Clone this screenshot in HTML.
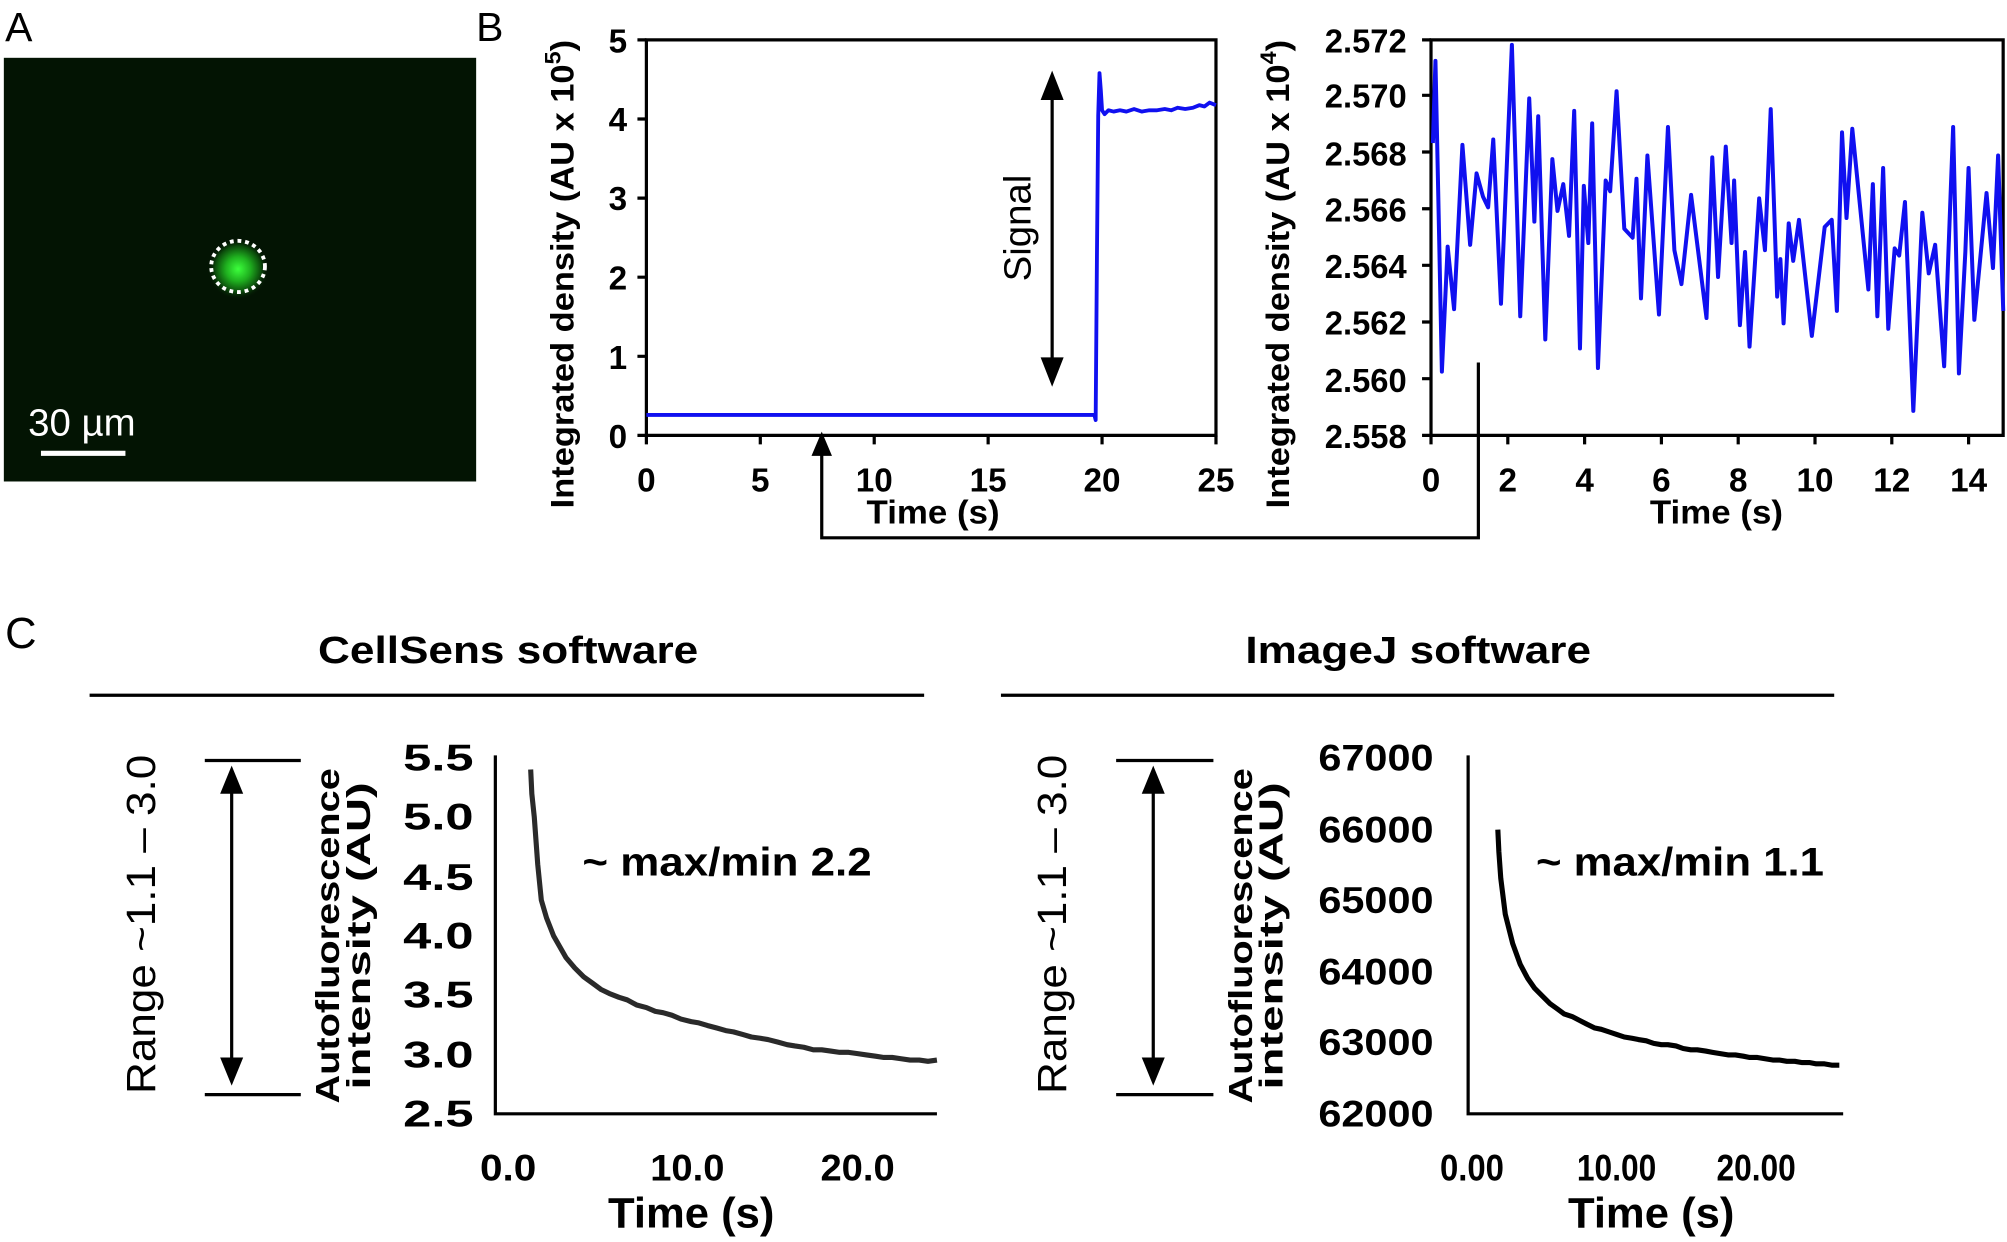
<!DOCTYPE html>
<html><head><meta charset="utf-8"><style>html,body{margin:0;padding:0;background:#fff}svg{display:block}</style></head>
<body>
<svg width="2007" height="1242" viewBox="0 0 1568 970" xmlns="http://www.w3.org/2000/svg" font-family="Liberation Sans, Arial, sans-serif">
<defs>
<radialGradient id="blob" cx="50%" cy="50%" r="50%">
<stop offset="0" stop-color="#3cff3c"/><stop offset="0.4" stop-color="#1fb01f"/><stop offset="0.75" stop-color="#0b4a0b"/><stop offset="1" stop-color="#031403" stop-opacity="0"/>
</radialGradient>
</defs>
<rect width="1568" height="970" fill="#fff"/>
<!-- Panel A -->
<text x="4" y="32" font-size="32">A</text>
<rect x="3" y="45" width="369" height="331" fill="#031403"/>
<ellipse cx="186" cy="210" rx="24" ry="24" fill="url(#blob)"/>
<ellipse cx="186" cy="208" rx="21" ry="20" fill="none" stroke="#fff" stroke-width="3" stroke-dasharray="3 3"/>
<text x="22" y="340" font-size="30" fill="#fff">30 µm</text>
<line x1="32" y1="354" x2="98" y2="354" stroke="#fff" stroke-width="4"/>
<!-- Panel B -->
<text x="372" y="32" font-size="32">B</text>
<g stroke="#000" stroke-width="2.5" fill="none">
<path d="M505 31 L950 31 L950 340 L505 340 Z"/>
<path d="M505 340v7M594 340v7M683 340v7M772 340v7M861 340v7M950 340v7"/>
<path d="M498 340h7M498 278.2h7M498 216.4h7M498 154.6h7M498 92.8h7M498 31h7"/>
</g>
<g font-size="26" font-weight="bold" text-anchor="end">
<text x="490" y="350">0</text><text x="490" y="288">1</text><text x="490" y="226">2</text><text x="490" y="164">3</text><text x="490" y="102">4</text><text x="490" y="41">5</text>
</g>
<g font-size="26" font-weight="bold" text-anchor="middle">
<text x="505" y="384">0</text><text x="594" y="384">5</text><text x="683" y="384">10</text><text x="772" y="384">15</text><text x="861" y="384">20</text><text x="950" y="384">25</text>
<text x="729" y="409" textLength="104" lengthAdjust="spacingAndGlyphs">Time (s)</text>
</g>
<text transform="translate(448,214) rotate(-90)" font-size="25" font-weight="bold" text-anchor="middle" textLength="366" lengthAdjust="spacingAndGlyphs">Integrated density (AU x 10<tspan dy="-10" font-size="17">5</tspan><tspan dy="10">)</tspan></text>
<path d="M505 324 L855 324 L856 328 L857 200 L858 90 L859 57 L860 70 L861 86 L863 89 L866 86 L870 87 L875 86 L880 87 L886 85 L892 87 L898 86 L904 86 L910 85 L915 86 L920 84 L926 85 L932 84 L937 82 L941 83 L945 80 L950 82" fill="none" stroke="#1010f0" stroke-width="3" stroke-linejoin="round"/>
<!-- Signal arrow -->
<line x1="822" y1="72" x2="822" y2="285" stroke="#000" stroke-width="2.5"/>
<path d="M822 55 L813 78 L831 78 Z M822 302 L813 279 L831 279 Z" fill="#000"/>
<text transform="translate(805,178) rotate(-90)" font-size="30" text-anchor="middle">Signal</text>
<!-- connector arrow -->
<path d="M642 352 L642 420 L1155 420 L1155 283" fill="none" stroke="#000" stroke-width="2.5"/>
<path d="M642 337 L634 356 L650 356 Z" fill="#000"/>
<!-- B2 -->
<g stroke="#000" stroke-width="2.5" fill="none">
<path d="M1118 31 L1565 31 L1565 340 L1118 340 Z"/>
<path d="M1118 340v7M1178 340v7M1238 340v7M1298 340v7M1358 340v7M1418 340v7M1478 340v7M1538 340v7"/>
<path d="M1111 340h7M1111 295.7h7M1111 251.4h7M1111 207.1h7M1111 162.9h7M1111 118.6h7M1111 74.3h7M1111 31h7"/>
</g>
<g font-size="26" font-weight="bold" text-anchor="end">
<text x="1099" y="350" textLength="64" lengthAdjust="spacingAndGlyphs">2.558</text><text x="1099" y="306" textLength="64" lengthAdjust="spacingAndGlyphs">2.560</text><text x="1099" y="261" textLength="64" lengthAdjust="spacingAndGlyphs">2.562</text><text x="1099" y="217" textLength="64" lengthAdjust="spacingAndGlyphs">2.564</text><text x="1099" y="173" textLength="64" lengthAdjust="spacingAndGlyphs">2.566</text><text x="1099" y="129" textLength="64" lengthAdjust="spacingAndGlyphs">2.568</text><text x="1099" y="84" textLength="64" lengthAdjust="spacingAndGlyphs">2.570</text><text x="1099" y="41" textLength="64" lengthAdjust="spacingAndGlyphs">2.572</text>
</g>
<g font-size="26" font-weight="bold" text-anchor="middle">
<text x="1118" y="384">0</text><text x="1178" y="384">2</text><text x="1238" y="384">4</text><text x="1298" y="384">6</text><text x="1358" y="384">8</text><text x="1418" y="384">10</text><text x="1478" y="384">12</text><text x="1538" y="384">14</text>
<text x="1341" y="409" textLength="104" lengthAdjust="spacingAndGlyphs">Time (s)</text>
</g>
<text transform="translate(1007,214) rotate(-90)" font-size="25" font-weight="bold" text-anchor="middle" textLength="366" lengthAdjust="spacingAndGlyphs">Integrated density (AU x 10<tspan dy="-10" font-size="17">4</tspan><tspan dy="10">)</tspan></text>
<g transform="matrix(0.5018 0 0 0.279 781.25 0)">
<polyline vector-effect="non-scaling-stroke" fill="none" stroke="#1010f0" stroke-width="4" stroke-linejoin="round" points="674,400 678,170 683,600 688,1040 697,690 707,865 720,405 732,685 742,485 752,550 760,580 768,390 780,850 797,125 810,885 824,275 832,620 838,325 849,950 860,445 868,590 877,515 886,660 894,310 903,975 909,520 916,680 922,345 931,1030 943,505 950,535 960,255 972,640 985,665 991,500 998,835 1008,435 1026,880 1040,355 1050,700 1061,795 1076,545 1100,890 1109,440 1118,775 1130,410 1139,680 1143,505 1152,910 1160,705 1167,970 1182,555 1191,700 1200,305 1210,830 1215,725 1220,905 1228,625 1235,730 1244,615 1264,940 1284,635 1295,615 1303,870 1311,370 1318,610 1327,360 1352,810 1359,515 1366,885 1375,470 1383,920 1393,695 1400,715 1409,565 1422,1150 1436,595 1446,765 1456,685 1470,1025 1484,355 1493,1045 1503,705 1508,470 1517,895 1536,540 1546,750 1554,435 1562,870"/>
</g>
<!-- Panel C -->
<text x="4" y="506" font-size="34">C</text>
<text x="397" y="518" font-size="30" font-weight="bold" text-anchor="middle" textLength="297" lengthAdjust="spacingAndGlyphs">CellSens software</text>
<text x="1108" y="518" font-size="30" font-weight="bold" text-anchor="middle" textLength="270" lengthAdjust="spacingAndGlyphs">ImageJ software</text>
<g stroke="#000" stroke-width="2.5" fill="none">
<line x1="70" y1="543" x2="722" y2="543"/>
<line x1="782" y1="543" x2="1433" y2="543"/>
<line x1="160" y1="594" x2="235" y2="594"/><line x1="160" y1="855" x2="235" y2="855"/>
<line x1="181" y1="615" x2="181" y2="832"/>
<line x1="872" y1="594" x2="948" y2="594"/><line x1="872" y1="855" x2="948" y2="855"/>
<line x1="901" y1="615" x2="901" y2="832"/>
<path d="M387 590 L387 870 L732 870"/>
<path d="M1147 590 L1147 870 L1440 870"/>
</g>
<path d="M181 598 L172 620 L190 620 Z M181 848 L172 826 L190 826 Z M901 598 L892 620 L910 620 Z M901 848 L892 826 L910 826 Z" fill="#000"/>
<text transform="translate(121,722) rotate(-90)" font-size="32" text-anchor="middle" textLength="265" lengthAdjust="spacingAndGlyphs">Range ~1.1 – 3.0</text>
<text transform="translate(833,722) rotate(-90)" font-size="32" text-anchor="middle" textLength="265" lengthAdjust="spacingAndGlyphs">Range ~1.1 – 3.0</text>
<g font-size="26" font-weight="bold" text-anchor="middle">
<text transform="translate(265,731) rotate(-90)" textLength="262" lengthAdjust="spacingAndGlyphs">Autofluorescence</text>
<text transform="translate(289,731) rotate(-90)" textLength="240" lengthAdjust="spacingAndGlyphs">intensity (AU)</text>
<text transform="translate(978,731) rotate(-90)" textLength="262" lengthAdjust="spacingAndGlyphs">Autofluorescence</text>
<text transform="translate(1002,731) rotate(-90)" textLength="240" lengthAdjust="spacingAndGlyphs">intensity (AU)</text>
</g>
<g font-size="29" font-weight="bold" text-anchor="end">
<text x="370" y="602" textLength="55" lengthAdjust="spacingAndGlyphs">5.5</text>
<text x="370" y="648" textLength="55" lengthAdjust="spacingAndGlyphs">5.0</text>
<text x="370" y="695" textLength="55" lengthAdjust="spacingAndGlyphs">4.5</text>
<text x="370" y="741" textLength="55" lengthAdjust="spacingAndGlyphs">4.0</text>
<text x="370" y="787" textLength="55" lengthAdjust="spacingAndGlyphs">3.5</text>
<text x="370" y="834" textLength="55" lengthAdjust="spacingAndGlyphs">3.0</text>
<text x="370" y="880" textLength="55" lengthAdjust="spacingAndGlyphs">2.5</text>
<text x="1120" y="602" textLength="90" lengthAdjust="spacingAndGlyphs">67000</text>
<text x="1120" y="658" textLength="90" lengthAdjust="spacingAndGlyphs">66000</text>
<text x="1120" y="713" textLength="90" lengthAdjust="spacingAndGlyphs">65000</text>
<text x="1120" y="769" textLength="90" lengthAdjust="spacingAndGlyphs">64000</text>
<text x="1120" y="824" textLength="90" lengthAdjust="spacingAndGlyphs">63000</text>
<text x="1120" y="880" textLength="90" lengthAdjust="spacingAndGlyphs">62000</text>
</g>
<g font-size="29" font-weight="bold" text-anchor="middle">
<text x="397" y="922" textLength="44" lengthAdjust="spacingAndGlyphs">0.0</text>
<text x="537" y="922" textLength="58" lengthAdjust="spacingAndGlyphs">10.0</text>
<text x="670" y="922" textLength="58" lengthAdjust="spacingAndGlyphs">20.0</text>
<text x="1150" y="922" textLength="50" lengthAdjust="spacingAndGlyphs">0.00</text>
<text x="1263" y="922" textLength="62" lengthAdjust="spacingAndGlyphs">10.00</text>
<text x="1372" y="922" textLength="62" lengthAdjust="spacingAndGlyphs">20.00</text>
</g>
<g font-size="33" font-weight="bold" text-anchor="middle">
<text x="540" y="959" textLength="130" lengthAdjust="spacingAndGlyphs">Time (s)</text>
<text x="1290" y="959" textLength="130" lengthAdjust="spacingAndGlyphs">Time (s)</text>
</g>
<text x="455" y="684" font-size="31" font-weight="bold" textLength="226" lengthAdjust="spacingAndGlyphs">~ max/min 2.2</text>
<text x="1200" y="684" font-size="31" font-weight="bold" textLength="225" lengthAdjust="spacingAndGlyphs">~ max/min 1.1</text>
<polyline fill="none" stroke="#2a2a2a" stroke-width="4" stroke-linejoin="round" points="414.6,601 415.5,620 417.4,638 420.1,675 422.9,703 427,717 432.5,731 442.2,748 449,756 456,763 463,768 469.8,773 476,776 483.6,779 490,781 497.4,785 505,787 512,790 518,791 525,793 532,796 540,798 546,799 552.6,801 560,803 567,805 573,806 580.2,808 587,810 594,811 600,812 607.8,814 615,816 621,817 628,818 635.4,820 642,820 649,821 656,822 663,822 670,823 677,824 684,825 690.6,826 697,826 704,827 711,828 718.2,828 725,829 732,828"/>
<polyline fill="none" stroke="#000" stroke-width="4" stroke-linejoin="round" points="1170.2,648 1171,665 1172.5,686 1176,714 1181.8,737 1187.6,753 1193.4,764 1199,772 1205,778 1211,784 1216.6,788 1222,792 1228.2,794 1234,797 1239.8,800 1246,803 1251,804 1257,806 1263,808 1269,810 1275,811 1280,812 1286.2,813 1292,815 1298,816 1303,816 1309.4,817 1315,819 1321,820 1326,820 1332.6,821 1338,822 1344,823 1350,824 1355.8,824 1362,825 1367,826 1373,826 1379,827 1385,828 1390,828 1396,829 1402.2,829 1408,830 1414,830 1419,831 1425.4,831 1431,832 1437,832"/>
</svg>
</body></html>
